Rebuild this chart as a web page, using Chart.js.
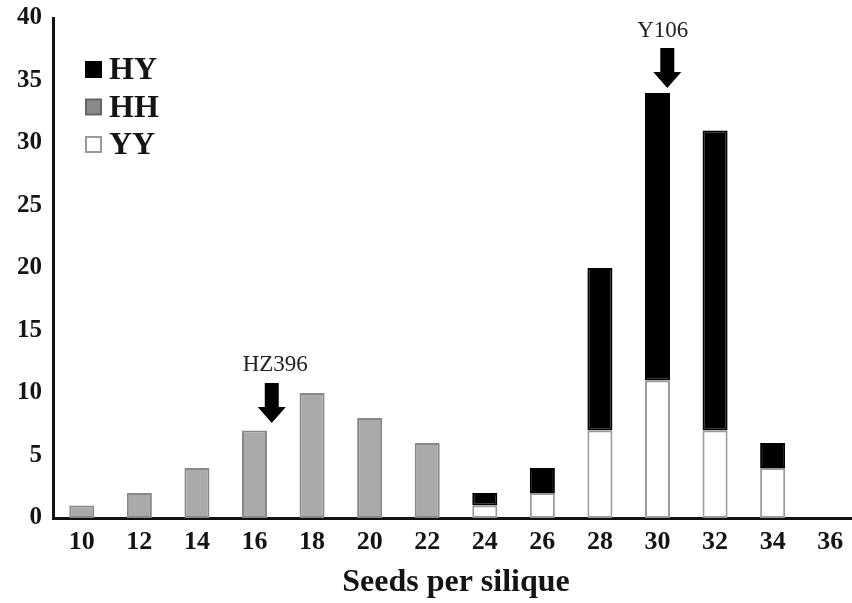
<!DOCTYPE html>
<html>
<head>
<meta charset="utf-8">
<script src="https://cdn.jsdelivr.net/npm/chart.js@4.4.1/dist/chart.umd.min.js"></script>
<style>
    html, body { margin: 0; padding: 0; background: #fff; overflow: hidden; }
    #seedChart { display: block; }
</style>
</head>
<body>
<canvas id="seedChart" width="860" height="603"></canvas>
<script>
const categories = ['10', '12', '14', '16', '18', '20', '22', '24', '26', '28', '30', '32', '34', '36'];
const hhValues = [1, 2, 4, 7, 10, 8, 6, 0, 0, 0, 0, 0, 0, 0];
const yyValues = [0, 0, 0, 0, 0, 0, 0, 1, 2, 7, 11, 7, 4, 0];
const hyValues = [0, 0, 0, 0, 0, 0, 0, 1, 2, 13, 23, 24, 2, 0];
const yTicks = [0, 5, 10, 15, 20, 25, 30, 35, 40];

// arrow markers: x as category index, y in count units
const markers = [
    { label: 'HZ396', x: 3.3, textX: 3.36, textY: 12.25, top: 10.8, tip: 7.6 },
    { label: 'Y106', x: 10.17, textX: 10.09, textY: 39.0, top: 37.6, tip: 34.4 }
];

const legendItems = [
    { label: 'HY', fill: '#000000', stroke: '#000000' },
    { label: 'HH', fill: '#8a8a8a', stroke: '#666666' },
    { label: 'YY', fill: '#ffffff', stroke: '#999999' }
];

const serif = '"Liberation Serif", "Times New Roman", serif';

const markerPlugin = {
    id: 'markers',
    afterDatasetsDraw(chart) {
        const {ctx, scales: {x, y}} = chart;
        ctx.save();
        markers.forEach(m => {
            const cx = x.getPixelForValue(m.x);
            const top = y.getPixelForValue(m.top);
            const tip = y.getPixelForValue(m.tip);
            const headH = 16;
            ctx.fillStyle = '#000';
            ctx.beginPath();
            ctx.moveTo(cx - 7, top);
            ctx.lineTo(cx + 7, top);
            ctx.lineTo(cx + 7, tip - headH);
            ctx.lineTo(cx + 14, tip - headH);
            ctx.lineTo(cx, tip);
            ctx.lineTo(cx - 14, tip - headH);
            ctx.lineTo(cx - 7, tip - headH);
            ctx.closePath();
            ctx.fill();

            ctx.fillStyle = '#222';
            ctx.font = '23px ' + serif;
            ctx.textAlign = 'center';
            ctx.textBaseline = 'middle';
            ctx.fillText(m.label, x.getPixelForValue(m.textX), y.getPixelForValue(m.textY));
        });

        // legend in the upper left of the plot
        legendItems.forEach((item, i) => {
            const rowY = 70 + i * 37.5;
            ctx.fillStyle = item.fill;
            ctx.strokeStyle = item.stroke;
            ctx.lineWidth = 2;
            ctx.fillRect(86, rowY - 8, 15, 15);
            ctx.strokeRect(86, rowY - 8, 15, 15);
            ctx.fillStyle = '#141414';
            ctx.font = 'bold 32px ' + serif;
            ctx.textAlign = 'left';
            ctx.textBaseline = 'middle';
            ctx.fillText(item.label, 109, rowY + 1);
        });
        ctx.restore();
    }
};

const barStyle = {
    barPercentage: 0.435,
    categoryPercentage: 1.0,
    borderWidth: 2,
    borderSkipped: false
};

new Chart(document.getElementById('seedChart'), {
    type: 'bar',
    data: {
        labels: categories,
        datasets: [
            { label: 'YY', data: yyValues, backgroundColor: '#ffffff', borderColor: '#9a9a9a', ...barStyle },
            { label: 'HY', data: hyValues, backgroundColor: '#000000', borderColor: '#000000', ...barStyle },
            { label: 'HH', data: hhValues, backgroundColor: '#aaaaaa', borderColor: '#888888', ...barStyle }
        ]
    },
    options: {
        responsive: false,
        animation: false,
        layout: { padding: { top: 18, right: 1, left: 0, bottom: 0 } },
        plugins: {
            legend: { display: false },
            tooltip: { enabled: false }
        },
        scales: {
            x: {
                stacked: true,
                grid: { display: false, drawTicks: false },
                border: { display: true, color: '#111', width: 3 },
                ticks: {
                    color: '#141414',
                    font: { family: serif, size: 26, weight: 'bold' },
                    padding: 9,
                    maxRotation: 0,
                    autoSkip: false
                },
                title: {
                    display: true,
                    text: 'Seeds per silique',
                    color: '#141414',
                    font: { family: serif, size: 32, weight: 'bold' },
                    padding: { top: 0, bottom: 1 }
                },
                afterFit: s => { s.height = 85; }
            },
            y: {
                stacked: true,
                min: 0,
                max: 40,
                afterBuildTicks: s => { s.ticks = yTicks.map(v => ({ value: v })); },
                grid: { display: false, drawTicks: false },
                border: { display: true, color: '#111', width: 3 },
                ticks: {
                    color: '#141414',
                    font: { family: serif, size: 25, weight: 'bold', lineHeight: 1 },
                    padding: 11
                },
                afterFit: s => {
                    s.width = 53;
                    s.paddingTop = 0;
                    s.paddingBottom = 0;
                }
            }
        }
    },
    plugins: [markerPlugin]
});
</script>
</body>
</html>
